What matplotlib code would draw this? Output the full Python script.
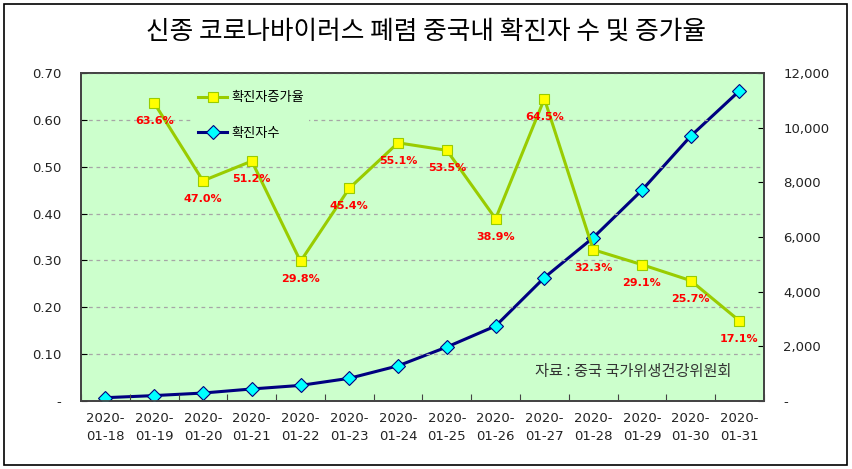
import matplotlib.pyplot as plt
import matplotlib.ticker as mticker
from matplotlib.patches import Rectangle

plt.rcParams['font.family'] = ['Noto Sans CJK KR', 'DejaVu Sans']

# data
dates = ["01-18", "01-19", "01-20", "01-21", "01-22", "01-23", "01-24",
         "01-25", "01-26", "01-27", "01-28", "01-29", "01-30", "01-31"]
cases = [121, 198, 291, 440, 571, 830, 1287, 1975, 2744, 4515, 5974, 7711, 9692, 11350]
rates = [None, 0.636, 0.470, 0.512, 0.298, 0.454, 0.551, 0.535, 0.389,
         0.645, 0.323, 0.291, 0.257, 0.171]
rate_labels = ["", "63.6%", "47.0%", "51.2%", "29.8%", "45.4%", "55.1%", "53.5%",
               "38.9%", "64.5%", "32.3%", "29.1%", "25.7%", "17.1%"]
tick_labels = ["2020-\n" + d for d in dates]

fig = plt.figure(figsize=(8.53, 4.69), dpi=100)
fig.patches.append(Rectangle((0.005, 0.008), 0.988, 0.983, transform=fig.transFigure,
                             fill=False, edgecolor="black", linewidth=1.2))

ax = fig.add_axes([0.095, 0.145, 0.8005, 0.6993])
ax2 = ax.twinx()

x = list(range(len(dates)))
rx = [i for i in x if rates[i] is not None]
ry = [rates[i] for i in rx]

# confirmed cases on right axis
ax2.plot(x, cases, color="#000080", lw=2.2, marker="D", ms=7,
         mfc="#00FFFF", mec="#000080", mew=0.8, zorder=3)
# growth rate on left axis
ax.plot(rx, ry, color="#99CC00", lw=2.2, marker="s", ms=7,
        mfc="#FFFF00", mec="#99CC00", mew=0.8, zorder=3, label="확진자증가율")
ax.plot([], [], color="#000080", lw=2.2, marker="D", ms=7,
        mfc="#00FFFF", mec="#000080", mew=0.8, label="확진자수")

ax.set_zorder(ax2.get_zorder() + 1)
ax.patch.set_visible(False)
ax2.patch.set_visible(True)
ax2.patch.set_facecolor("#CCFFCC")

for i in rx:
    ax.annotate(rate_labels[i], (i, rates[i]), xytext=(0, -13), textcoords="offset points",
                ha="center", va="center", color="red", fontsize=8, fontweight="bold",
                family="DejaVu Sans", zorder=4)

ax.set_xlim(-0.5, 13.5)
ax.set_ylim(0, 0.70)
ax2.set_ylim(0, 12000)
ax.set_yticks([i / 10 for i in range(8)])
ax.yaxis.set_major_formatter(mticker.FuncFormatter(lambda v, p: "-" if v == 0 else f"{v:.2f}"))
ax2.set_yticks(range(0, 12001, 2000))
ax2.yaxis.set_major_formatter(mticker.FuncFormatter(lambda v, p: "-" if v == 0 else f"{int(v):,}"))

ax.set_xticks([i + 0.5 for i in range(-1, 14)], minor=False)
ax.set_xticklabels([])
ax.set_xticks(x, minor=True)
ax.set_xticklabels(tick_labels, minor=True, fontsize=9.5, family="DejaVu Sans",
                   linespacing=1.45, color="#222222")
ax.tick_params(axis="x", which="major", direction="in", length=5, color="#444444")
ax.tick_params(axis="x", which="minor", length=0, pad=8)
ax.tick_params(axis="y", direction="in", length=4, pad=14, labelsize=9.5, labelcolor="#222222")
ax2.tick_params(axis="y", direction="in", length=4, pad=14, labelsize=9.5, labelcolor="#222222")
for lbl in ax.get_yticklabels() + ax2.get_yticklabels():
    lbl.set_family("DejaVu Sans")

ax.yaxis.grid(True, linestyle=(0, (3, 3)), color="#A6A6A6", lw=0.9)
ax.set_axisbelow(True)
for a in (ax, ax2):
    for s in a.spines.values():
        s.set_color("#444444")
        s.set_linewidth(1.3)

leg = ax.legend(loc="upper left", bbox_to_anchor=(0.154, 0.98), frameon=True, fontsize=9.5,
                handlelength=2.2, handletextpad=0.3, labelspacing=1.7, borderpad=0.4)
leg.get_frame().set_facecolor("#CCFFCC")
leg.get_frame().set_edgecolor("none")
leg.get_frame().set_alpha(1)

ax.text(0.953, 0.09, "자료 : 중국 국가위생건강위원회", transform=ax.transAxes,
        ha="right", va="center", fontsize=11, color="#333333")

fig.text(0.5, 0.932, "신종 코로나바이러스 폐렴 중국내 확진자 수 및 증가율",
         ha="center", va="center", fontsize=18.5)

fig.savefig("out.png", dpi=100)
